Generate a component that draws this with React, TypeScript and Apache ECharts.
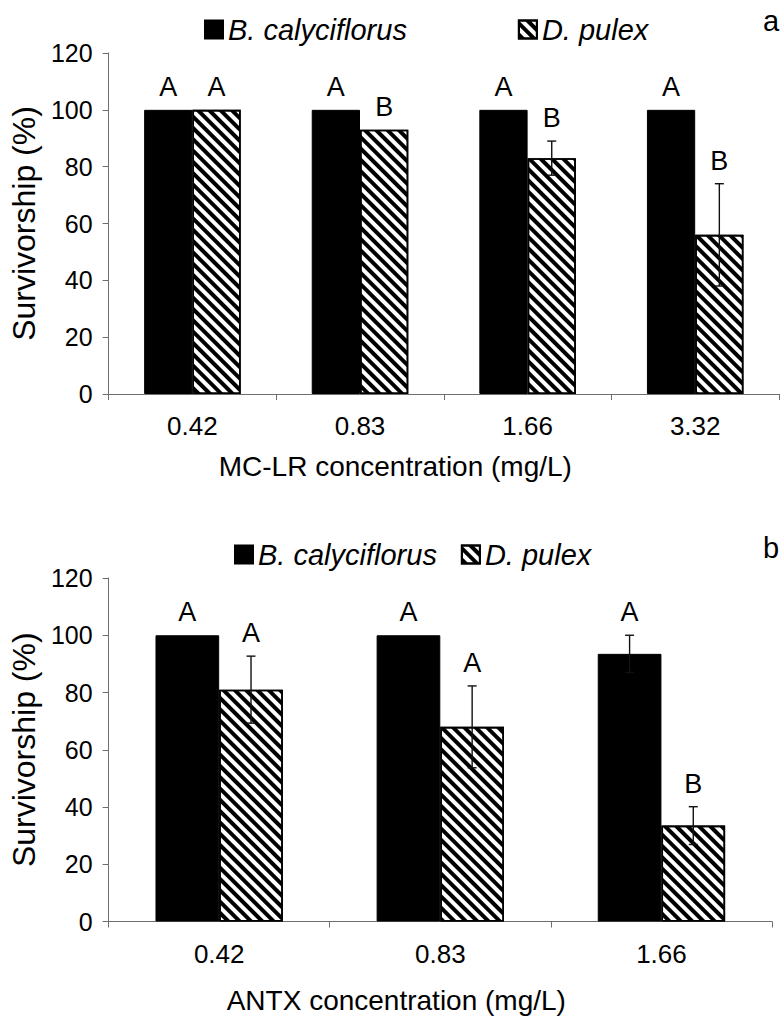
import React, { useEffect, useRef } from "react";
import * as echarts from "echarts";

// ---- Panel a: MC-LR ----
const catsA = ["0.42", "0.83", "1.66", "3.32"];
const bcA = [100, 100, 100, 100];
const bcErrA = [0, 0, 0, 0];
const dpA = [100, 93, 83, 56];
const dpErrA = [0, 0, 6, 18];
const bcLetA = ["A", "A", "A", "A"];
const dpLetA = ["A", "B", "B", "B"];

// ---- Panel b: ANTX ----
const catsB = ["0.42", "0.83", "1.66"];
const bcB = [100, 100, 93.5];
const bcErrB = [0, 0, 6.5];
const dpB = [81, 68, 33.5];
const dpErrB = [11.7, 14.3, 6.6];
const bcLetB = ["A", "A", "A"];
const dpLetB = ["A", "A", "B"];

const yTicks = [0, 20, 40, 60, 80, 100, 120];

const FONT = "'Liberation Sans', Arial, Helvetica, sans-serif";
const BAR_FRAC = 0.288;
const AXIS_COLOR = "#6e6e6e";

const SERIES_B = "B. calyciflorus";
const SERIES_D = "D. pulex";

const hatchDecal = {
  symbol: "rect",
  symbolSize: 1,
  color: "#000",
  dashArrayX: [1, 0],
  dashArrayY: [4, 4],
  rotation: Math.PI / 4,
};

function makeErrSeries(
  name: string,
  vals: number[],
  errs: number[],
  letters: string[],
  side: number,
  axisIndex: number
) {
  const data = vals.map((v, i) => [i, v, errs[i], side]);
  return {
    type: "custom",
    name,
    xAxisIndex: axisIndex,
    yAxisIndex: axisIndex,
    z: 10,
    silent: true,
    data,
    renderItem: (params: any, api: any) => {
      const ci = api.value(0);
      const v = api.value(1);
      const e = api.value(2);
      const sd = api.value(3);
      const c = api.coord([ci, v]);
      const bandW = api.size([1, 0])[0];
      const bw = bandW * BAR_FRAC;
      const x = c[0] + (sd === 0 ? -bw / 2 : bw / 2);
      const yTop = api.coord([ci, v + e])[1];
      const yBot = api.coord([ci, v - e])[1];
      const children: any[] = [];
      if (e > 0) {
        const ls = { stroke: "#111", lineWidth: 1.4 };
        children.push({ type: "line", shape: { x1: x, y1: yTop, x2: x, y2: yBot }, style: ls });
        children.push({ type: "line", shape: { x1: x - 4.5, y1: yTop, x2: x + 4.5, y2: yTop }, style: ls });
        children.push({ type: "line", shape: { x1: x - 4.5, y1: yBot, x2: x + 4.5, y2: yBot }, style: ls });
      }
      children.push({
        type: "text",
        x,
        y: yTop - 23,
        style: {
          text: letters[params.dataIndex],
          fontSize: 27,
          fontFamily: FONT,
          fill: "#000",
          align: "center",
          verticalAlign: "middle",
        },
      });
      return { type: "group", children };
    },
  };
}

export default function App() {
  const ref = useRef<HTMLDivElement>(null);

  useEffect(() => {
    document.body.style.margin = "0";
    if (!ref.current) return;
    const chart = echarts.init(ref.current, undefined, { renderer: "svg" });

    const yAxisCommon = {
      type: "value",
      min: 0,
      max: 120,
      interval: 20,
      name: "Survivorship (%)",
      nameLocation: "middle",
      nameGap: 62,
      nameTextStyle: { fontSize: 32, fontFamily: FONT, color: "#000" },
      axisLine: { show: true, lineStyle: { color: AXIS_COLOR, width: 1 } },
      axisTick: { show: true, length: 6, lineStyle: { color: AXIS_COLOR } },
      axisLabel: {
        fontSize: 25,
        fontFamily: FONT,
        color: "#000",
        margin: 16,
        formatter: (v: number) => (yTicks.includes(v) ? String(v) : ""),
      },
      splitLine: { show: false },
    };

    const xAxisCommon = {
      type: "category",
      nameLocation: "middle",
      axisLine: { show: true, lineStyle: { color: AXIS_COLOR, width: 1 } },
      axisTick: { show: true, length: 6, alignWithLabel: false, lineStyle: { color: AXIS_COLOR } },
      axisLabel: { fontSize: 26, fontFamily: FONT, color: "#000", margin: 19 },
      splitLine: { show: false },
    };

    const legendCommon = {
      orient: "horizontal",
      itemWidth: 18,
      itemHeight: 18,
      icon: "rect",
      textStyle: { fontSize: 29, fontFamily: FONT, fontStyle: "italic", color: "#000" },
      data: [SERIES_B, SERIES_D],
      selectedMode: false,
    };

    const option: any = {
      animation: false,
      backgroundColor: "#fff",
      grid: [
        { left: 96, right: 1, top: 53, height: 341 },
        { left: 96, right: 8, top: 578, height: 343.5 },
      ],
      legend: [
        { ...legendCommon, left: 199, top: 10, itemGap: 111 },
        { ...legendCommon, left: 229, top: 535, itemGap: 24 },
      ],
      xAxis: [
        {
          ...xAxisCommon,
          gridIndex: 0,
          data: catsA,
          name: "MC-LR concentration (mg/L)",
          nameGap: 58,
          nameTextStyle: { fontSize: 28, fontFamily: FONT, color: "#000", padding: [0, 97, 0, 0] },
        },
        {
          ...xAxisCommon,
          gridIndex: 1,
          data: catsB,
          name: "ANTX concentration (mg/L)",
          nameGap: 65,
          nameTextStyle: { fontSize: 28, fontFamily: FONT, color: "#000", padding: [0, 88, 0, 0] },
        },
      ],
      yAxis: [
        { ...yAxisCommon, gridIndex: 0 },
        { ...yAxisCommon, gridIndex: 1 },
      ],
      graphic: [
        { type: "text", left: 763, top: 6, style: { text: "a", fontSize: 29, fontFamily: FONT, fill: "#000" } },
        { type: "text", left: 763, top: 533, style: { text: "b", fontSize: 29, fontFamily: FONT, fill: "#000" } },
      ],
      series: [
        {
          type: "bar",
          name: SERIES_B,
          xAxisIndex: 0,
          yAxisIndex: 0,
          data: bcA,
          barWidth: BAR_FRAC * 100 + "%",
          barGap: "0%",
          itemStyle: { color: "#000", borderColor: "#000", borderWidth: 1 },
        },
        {
          type: "bar",
          name: SERIES_D,
          xAxisIndex: 0,
          yAxisIndex: 0,
          data: dpA,
          barWidth: BAR_FRAC * 100 + "%",
          barGap: "0%",
          itemStyle: { color: "#fff", borderColor: "#000", borderWidth: 1.6, decal: hatchDecal },
        },
        {
          type: "bar",
          name: SERIES_B,
          xAxisIndex: 1,
          yAxisIndex: 1,
          data: bcB,
          barWidth: BAR_FRAC * 100 + "%",
          barGap: "0%",
          itemStyle: { color: "#000", borderColor: "#000", borderWidth: 1 },
        },
        {
          type: "bar",
          name: SERIES_D,
          xAxisIndex: 1,
          yAxisIndex: 1,
          data: dpB,
          barWidth: BAR_FRAC * 100 + "%",
          barGap: "0%",
          itemStyle: { color: "#fff", borderColor: "#000", borderWidth: 1.6, decal: hatchDecal },
        },
        makeErrSeries("errA_bc", bcA, bcErrA, bcLetA, 0, 0),
        makeErrSeries("errA_dp", dpA, dpErrA, dpLetA, 1, 0),
        makeErrSeries("errB_bc", bcB, bcErrB, bcLetB, 0, 1),
        makeErrSeries("errB_dp", dpB, dpErrB, dpLetB, 1, 1),
      ],
    };

    chart.setOption(option);
    return () => chart.dispose();
  }, []);

  return (
    <div
      ref={ref}
      style={{ position: "absolute", left: 0, top: 0, width: 780, height: 1022 }}
    />
  );
}
